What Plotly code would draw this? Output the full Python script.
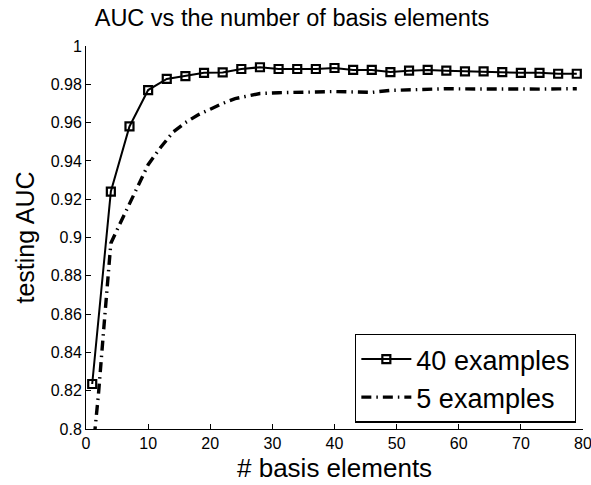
import plotly.graph_objects as go

x40 = [1, 4, 7, 10, 13, 16, 19, 22, 25, 28, 31, 34, 37, 40, 43, 46, 49, 52, 55, 58,
       61, 64, 67, 70, 73, 76, 79]
auc40 = [0.8235, 0.924, 0.958, 0.977, 0.9828, 0.9843, 0.986, 0.9862, 0.988, 0.9889,
         0.988, 0.988, 0.988, 0.9885, 0.9875, 0.9875, 0.9864, 0.9871, 0.9875, 0.9871,
         0.9868, 0.9868, 0.9864, 0.986, 0.986, 0.9855, 0.9855]

x5 = [1, 2, 3, 4, 5, 6, 7, 8, 9, 10, 12, 14, 16, 18, 20, 22, 24, 26, 28, 31, 34, 37,
      40, 43, 46, 49, 52, 55, 58, 61, 64, 67, 70, 73, 76, 79]
auc5 = [0.785, 0.818, 0.858, 0.897, 0.904, 0.911, 0.918, 0.925, 0.932, 0.938, 0.947,
        0.955, 0.960, 0.964, 0.967, 0.970, 0.9725, 0.974, 0.9752, 0.9756, 0.976, 0.976,
        0.9762, 0.976, 0.9758, 0.9768, 0.9772, 0.9774, 0.9777, 0.9776, 0.9775, 0.9774,
        0.9775, 0.9775, 0.9776, 0.9777]

xticks = [0, 10, 20, 30, 40, 50, 60, 70, 80]
yticks = [0.8, 0.82, 0.84, 0.86, 0.88, 0.9, 0.92, 0.94, 0.96, 0.98, 1.0]
yticklabels = ["0.8", "0.82", "0.84", "0.86", "0.88", "0.9", "0.92", "0.94", "0.96", "0.98", "1"]

FONT = "Liberation Sans, Arial, sans-serif"

fig = go.Figure()
fig.add_trace(go.Scatter(
    x=x40, y=auc40, mode="lines+markers", name="40 examples",
    line=dict(color="black", width=2),
    marker=dict(symbol="square-open", size=8, color="black", line=dict(width=2.2)),
))
fig.add_trace(go.Scatter(
    x=x5, y=auc5, mode="lines", name="5 examples",
    line=dict(color="black", width=3.4, dash="10px,5px,1.5px,5px"),
))

fig.update_layout(
    width=591, height=485,
    margin=dict(l=86, r=8, t=46, b=56),
    paper_bgcolor="white", plot_bgcolor="white",
    font=dict(family=FONT, color="black"),
    title=dict(text="AUC vs the number of basis elements", font=dict(size=23.5),
               x=0.494, xref="container", xanchor="center",
               y=1 - 18 / 485, yref="container", yanchor="middle"),
    showlegend=True,
    legend=dict(x=0.986, xanchor="right", y=0.0164, yanchor="bottom",
                bordercolor="black", borderwidth=1.3, bgcolor="white",
                font=dict(size=27), itemwidth=50, tracegroupgap=0),
    annotations=[dict(text="# basis elements", xref="paper", yref="paper",
                      x=0.5, y=-39 / 383, xanchor="center", yanchor="middle",
                      showarrow=False, font=dict(size=26))],
)
fig.update_xaxes(
    range=[0, 80], tickvals=xticks, ticks="inside", ticklen=5, tickcolor="black",
    showline=True, linecolor="black", linewidth=1, showgrid=False, zeroline=False,
    tickfont=dict(size=16), automargin=False, ticklabeloverflow="allow",
)
fig.update_yaxes(
    range=[0.8, 1.0], tickvals=yticks, ticktext=yticklabels, ticks="inside", ticklen=5,
    tickcolor="black", showline=True, linecolor="black", linewidth=1, showgrid=False,
    zeroline=False, tickfont=dict(size=16), automargin=False, ticklabeloverflow="allow",
    title=dict(text="testing AUC", font=dict(size=25), standoff=8),
)

fig.write_html("out.html", config={"displayModeBar": False},
               post_script="document.body.style.margin='0';")
